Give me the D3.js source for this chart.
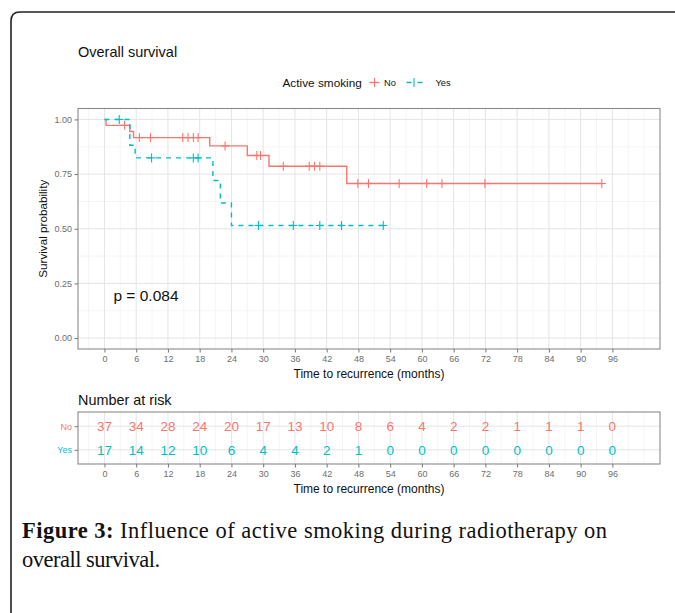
<!DOCTYPE html>
<html><head><meta charset="utf-8">
<script src="https://cdn.jsdelivr.net/npm/d3@7"></script>
<style>
html,body{margin:0;padding:0;background:#fff;}
svg{display:block;}
</style></head><body>
<svg id="fig" width="675" height="613"></svg>
<script>
// Kaplan–Meier overall survival by active smoking, with number-at-risk table

const groups = ["No", "Yes"];
const groupColors = ["#F8766D", "#00BFC4"];
const timeTicks = [0, 6, 12, 18, 24, 30, 36, 42, 48, 54, 60, 66, 72, 78, 84, 90, 96];
const survTicks = [0, 0.25, 0.5, 0.75, 1];
const survTickLabels = ["0.00", "0.25", "0.50", "0.75", "1.00"];

// Step curve: time of each step and survival after it
const noStepTime = [0, 0.3, 4.8, 5.5, 19.9, 27.0, 31.1, 45.8];
const noStepSurv = [1, 0.973, 0.945, 0.917, 0.879, 0.835, 0.786, 0.707];
const noCensor = [3.8, 6.6, 8.7, 14.8, 15.8, 16.8, 17.7, 22.8, 28.8, 29.5, 33.8, 38.7, 39.7, 40.7, 47.9, 49.9, 55.7, 60.9, 63.8, 71.9, 94.0];
const noLastTime = 94.0;

const yesStepTime = [0, 4.8, 5.8, 20.5, 21.9, 24.0];
const yesStepSurv = [1, 0.882, 0.824, 0.721, 0.618, 0.515];
const yesCensor = [2.8, 8.9, 16.8, 17.7, 29.1, 35.7, 40.7, 44.8, 52.7];
const yesLastTime = 52.7;

// Number at risk at each time tick
const riskNo = [37, 34, 28, 24, 20, 17, 13, 10, 8, 6, 4, 2, 2, 1, 1, 1, 0];
const riskYes = [17, 14, 12, 10, 6, 4, 4, 2, 1, 0, 0, 0, 0, 0, 0, 0, 0];

const pValueText = "p = 0.084";

const svg = d3.select("#fig");
const SANS = "'Liberation Sans', Arial, sans-serif";
const tickColor = "#6e6e6e";

// outer frame with rounded top-left corner
svg.append("path")
  .attr("d", "M11,620 L11,21 Q11,12 20,12 L680,12")
  .attr("fill", "none").attr("stroke", "#222").attr("stroke-width", 1.6);

// ---- main survival panel ----
const P = {left: 78, right: 660, top: 108.5, bottom: 349};
const x = d3.scaleLinear().domain([-5, 105]).range([P.left, P.right]);
const y = d3.scaleLinear().domain([-0.05, 1.05]).range([P.bottom, P.top]);

const minorX = d3.range(-3, 103, 6).concat([102]);
const minorY = [0.125, 0.375, 0.625, 0.875];

function drawGrid(g, yMajor, yScale, yMinor, top, bottom) {
  g.selectAll(".vminor").data(minorX).join("line")
    .attr("x1", d => x(d)).attr("x2", d => x(d)).attr("y1", top).attr("y2", bottom)
    .attr("stroke", "#f0f0f0").attr("stroke-width", 0.7);
  g.selectAll(".hminor").data(yMinor).join("line")
    .attr("x1", P.left).attr("x2", P.right).attr("y1", d => yScale(d)).attr("y2", d => yScale(d))
    .attr("stroke", "#f0f0f0").attr("stroke-width", 0.7);
  g.selectAll(".vmajor").data(timeTicks).join("line")
    .attr("x1", d => x(d)).attr("x2", d => x(d)).attr("y1", top).attr("y2", bottom)
    .attr("stroke", "#e4e4e4").attr("stroke-width", 1);
  g.selectAll(".hmajor").data(yMajor).join("line")
    .attr("x1", P.left).attr("x2", P.right).attr("y1", d => yScale(d)).attr("y2", d => yScale(d))
    .attr("stroke", "#e4e4e4").attr("stroke-width", 1);
}

const gMain = svg.append("g");
drawGrid(gMain.append("g").attr("class", "grid"), survTicks, y, minorY, P.top, P.bottom);

function stepPoints(times, surv, last) {
  const pts = times.map((t, i) => [t, surv[i]]);
  pts.push([last, surv[surv.length - 1]]);
  return pts;
}
function survAt(times, surv, t) {
  let s = surv[0];
  for (let i = 0; i < times.length; i++) if (times[i] <= t) s = surv[i];
  return s;
}
const line = d3.line().x(d => x(d[0])).y(d => y(d[1])).curve(d3.curveStepAfter);

const curves = [
  {times: noStepTime, surv: noStepSurv, censor: noCensor, last: noLastTime, color: groupColors[0], dash: null},
  {times: yesStepTime, surv: yesStepSurv, censor: yesCensor, last: yesLastTime, color: groupColors[1], dash: "5,5"}
];
curves.forEach(c => {
  gMain.append("path")
    .attr("d", line(stepPoints(c.times, c.surv, c.last)))
    .attr("fill", "none").attr("stroke", c.color).attr("stroke-width", 1.4)
    .attr("stroke-dasharray", c.dash);
  const cg = gMain.append("g");
  c.censor.forEach(t => {
    const cx = x(t), cy = y(survAt(c.times, c.surv, t));
    cg.append("line").attr("x1", cx).attr("x2", cx).attr("y1", cy - 4.5).attr("y2", cy + 4.5)
      .attr("stroke", c.color).attr("stroke-width", 1.1);
    cg.append("line").attr("x1", cx - 4).attr("x2", cx + 4).attr("y1", cy).attr("y2", cy)
      .attr("stroke", c.color).attr("stroke-width", 1.1);
  });
});

// panel border
gMain.append("rect").attr("x", P.left).attr("y", P.top)
  .attr("width", P.right - P.left).attr("height", P.bottom - P.top)
  .attr("fill", "none").attr("stroke", "#8a8a8a").attr("stroke-width", 1.1);

// axes
const xAxis = d3.axisBottom(x).tickValues(timeTicks).tickSize(3.5).tickPadding(3);
const gx = svg.append("g").attr("transform", `translate(0,${P.bottom})`).call(xAxis);
const yAxis = d3.axisLeft(y).tickValues(survTicks).tickFormat((d, i) => survTickLabels[i]).tickSize(3.5).tickPadding(2.5);
const gy = svg.append("g").attr("transform", `translate(${P.left},0)`).call(yAxis);
[gx, gy].forEach(g => {
  g.select(".domain").remove();
  g.selectAll(".tick line").attr("stroke", "#777");
  g.selectAll(".tick text").attr("fill", tickColor).style("font-family", SANS).style("font-size", "9px");
});

// p value
svg.append("text").attr("x", x(1.7)).attr("y", y(0.193)).attr("dy", "0.35em")
  .style("font-family", SANS).style("font-size", "15.5px").attr("fill", "#111").text(pValueText);

// titles
svg.append("text").attr("x", 78).attr("y", 57).style("font-family", SANS).style("font-size", "14.5px")
  .attr("fill", "#111").text("Overall survival");
svg.append("text").attr("transform", `translate(47,${(P.top + P.bottom) / 2}) rotate(-90)`)
  .attr("text-anchor", "middle").style("font-family", SANS).style("font-size", "11.7px").attr("fill", "#111")
  .text("Survival probability");
svg.append("text").attr("x", (P.left + P.right) / 2).attr("y", 377.5).attr("text-anchor", "middle")
  .style("font-family", SANS).style("font-size", "12px").attr("fill", "#111").text("Time to recurrence (months)");

// legend
const lg = svg.append("g");
lg.append("text").attr("x", 282.5).attr("y", 86.5).style("font-family", SANS).style("font-size", "11.8px")
  .attr("fill", "#111").text("Active smoking");
const ly = 82.5;
lg.append("line").attr("x1", 369.5).attr("x2", 379.5).attr("y1", ly).attr("y2", ly).attr("stroke", groupColors[0]).attr("stroke-width", 1.4);
lg.append("line").attr("x1", 374.5).attr("x2", 374.5).attr("y1", ly - 4.5).attr("y2", ly + 4.5).attr("stroke", groupColors[0]).attr("stroke-width", 1.1);
lg.append("text").attr("x", 384).attr("y", ly + 3.3).style("font-family", SANS).style("font-size", "9.3px")
  .attr("fill", "#111").text(groups[0]);
lg.append("line").attr("x1", 406.5).attr("x2", 425).attr("y1", ly).attr("y2", ly).attr("stroke", groupColors[1])
  .attr("stroke-width", 1.4).attr("stroke-dasharray", "5,6");
lg.append("line").attr("x1", 414).attr("x2", 414).attr("y1", ly - 4.5).attr("y2", ly + 4.5).attr("stroke", groupColors[1]).attr("stroke-width", 1.1);
lg.append("text").attr("x", 435.5).attr("y", ly + 3.3).style("font-family", SANS).style("font-size", "9.3px")
  .attr("fill", "#111").text(groups[1]);

// ---- number at risk table ----
const T = {top: 412, bottom: 464};
const yRisk = d3.scalePoint().domain(groups).range([T.top, T.bottom]).padding(0.6);
svg.append("text").attr("x", 78).attr("y", 405).style("font-family", SANS).style("font-size", "14.4px")
  .attr("fill", "#111").text("Number at risk");
const gTab = svg.append("g");
drawGrid(gTab.append("g"), groups, yRisk, [], T.top, T.bottom);
const riskRows = [riskNo, riskYes];
riskRows.forEach((row, gi) => {
  gTab.selectAll(null).data(row).join("text")
    .attr("x", (d, i) => x(timeTicks[i])).attr("y", yRisk(groups[gi])).attr("dy", "0.36em")
    .attr("text-anchor", "middle").style("font-family", SANS).style("font-size", "13.5px")
    .attr("fill", groupColors[gi]).text(d => d);
});
gTab.append("rect").attr("x", P.left).attr("y", T.top)
  .attr("width", P.right - P.left).attr("height", T.bottom - T.top)
  .attr("fill", "none").attr("stroke", "#8a8a8a").attr("stroke-width", 1.1);
const gtx = svg.append("g").attr("transform", `translate(0,${T.bottom})`).call(d3.axisBottom(x).tickValues(timeTicks).tickSize(3.5).tickPadding(3));
const gty = svg.append("g").attr("transform", `translate(${P.left},0)`).call(d3.axisLeft(yRisk).tickSize(3.5).tickPadding(2.5));
[gtx, gty].forEach(g => {
  g.select(".domain").remove();
  g.selectAll(".tick line").attr("stroke", "#777");
  g.selectAll(".tick text").attr("fill", tickColor).style("font-family", SANS).style("font-size", "9px");
});
gty.selectAll(".tick text").attr("fill", (d, i) => groupColors[groups.indexOf(d)]);
svg.append("text").attr("x", (P.left + P.right) / 2).attr("y", 493).attr("text-anchor", "middle")
  .style("font-family", SANS).style("font-size", "12px").attr("fill", "#111").text("Time to recurrence (months)");

// ---- caption ----
const SERIF = "'Liberation Serif', 'Times New Roman', serif";
const cap = svg.append("text").attr("x", 22).attr("y", 538)
  .attr("textLength", 585).attr("lengthAdjust", "spacing")
  .style("font-family", SERIF).style("font-size", "22.5px").attr("fill", "#111");
cap.append("tspan").style("font-weight", "bold").text("Figure 3:");
cap.append("tspan").text(" Influence of active smoking during radiotherapy on");
svg.append("text").attr("x", 22).attr("y", 567)
  .attr("textLength", 138).attr("lengthAdjust", "spacing")
  .style("font-family", SERIF).style("font-size", "22.5px").attr("fill", "#111")
  .text("overall survival.");
</script>
</body></html>
